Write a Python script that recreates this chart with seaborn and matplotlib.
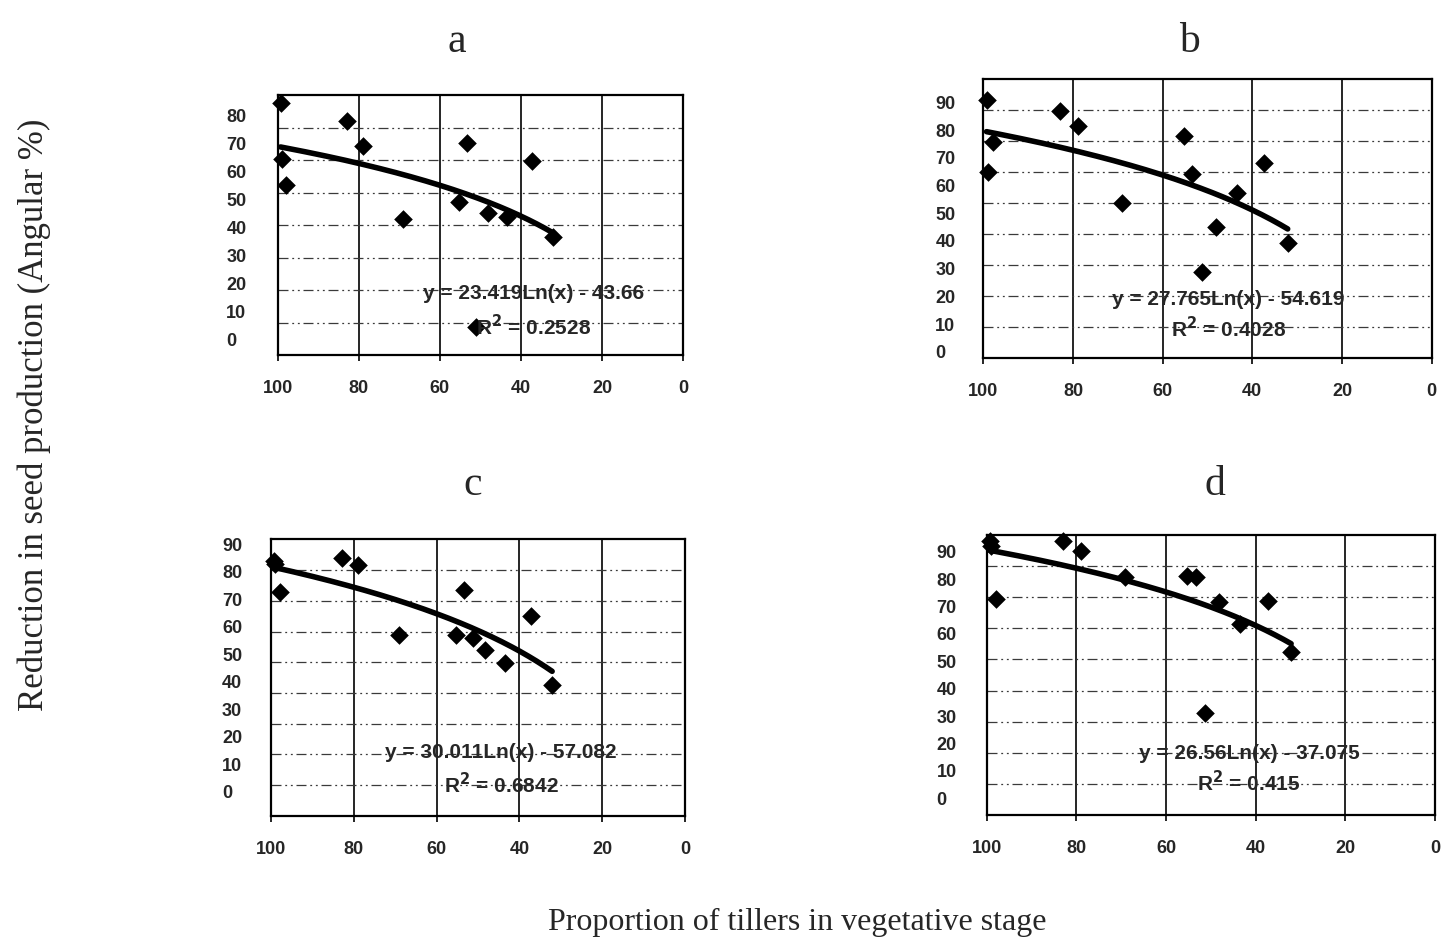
import numpy as np
import pandas as pd
import matplotlib
matplotlib.use("Agg")
import matplotlib.pyplot as plt
import seaborn as sns
from matplotlib.ticker import FixedLocator

sns.set_theme(style="white")
plt.rcParams["font.family"] = ["Liberation Sans", "DejaVu Sans"]

# Proportion of tillers in vegetative stage (%), shared by all four panels
tillers = [99.3, 99.0, 97.9, 82.9, 78.9, 69.1, 55.3, 53.4, 51.2, 48.2, 43.4, 37.3, 32.1]

# Reduction in seed production (angular %) for each panel
reduction_a = [77.4, 60.2, 52.3, 72.1, 64.3, 41.8, 47.0, 65.1, 8.7, 43.8, 42.5, 59.8, 36.4]
reduction_b = [83.2, 60.1, 69.8, 79.8, 75.0, 50.0, 71.7, 59.4, 27.7, 42.4, 53.2, 63.0, 37.1]
reduction_c = [83.0, 82.0, 72.8, 84.1, 81.6, 59.0, 59.0, 73.4, 57.9, 53.9, 49.8, 65.0, 42.4]
reduction_d = [88.0, 86.5, 69.4, 87.9, 85.0, 76.4, 76.9, 76.4, 32.9, 68.6, 61.4, 68.8, 52.3]

# Logarithmic trend lines: y = slope * ln(x) + intercept
slopes = [23.419, 27.765, 30.011, 26.56]
intercepts = [-43.66, -54.619, -57.082, -37.075]
r_squared = ["0.2528", "0.4028", "0.6842", "0.415"]
panel_names = ["a", "b", "c", "d"]

x_ticks = [100, 80, 60, 40, 20, 0]

series = [reduction_a, reduction_b, reduction_c, reduction_d]

# layout of each panel: axes rect, y max, y-label band (low, high), label pad,
# equation anchor (x, y line 1, y line 2), title anchor
layout = [
    dict(rect=[0.1923, 0.6227, 0.2809, 0.2763], ymax=80, nlab=9, band=(4.8, 73.8), pad=37.0,
         eq=(0.632, 0.238, 0.108), title=(0.3165, 0.9447)),
    dict(rect=[0.6810, 0.6192, 0.3104, 0.2968], ymax=90, nlab=10, band=(2.1, 82.5), pad=34.6,
         eq=(0.546, 0.209, 0.108), title=(0.8240, 0.9447)),
    dict(rect=[0.1877, 0.1333, 0.2867, 0.2934], ymax=90, nlab=10, band=(7.8, 88.4), pad=35.3,
         eq=(0.556, 0.227, 0.111), title=(0.3276, 0.4740)),
    dict(rect=[0.6833, 0.1339, 0.3105, 0.2976], ymax=90, nlab=10, band=(5.4, 84.6), pad=36.0,
         eq=(0.585, 0.221, 0.114), title=(0.8414, 0.4740)),
]

fig = plt.figure(figsize=(14.44, 9.41), dpi=100)
fig.patch.set_facecolor("white")

for name, vals, a, b, r2, lay in zip(panel_names, series, slopes, intercepts, r_squared, layout):
    ax = fig.add_axes(lay["rect"])
    ax.set_facecolor("white")
    df = pd.DataFrame({"tillers": tillers, "reduction": vals})

    # fitted logarithmic trend over the observed range
    xf = np.linspace(min(tillers), max(tillers), 200)
    fit = pd.DataFrame({"tillers": xf, "reduction": a * np.log(xf) + b})
    sns.lineplot(data=fit, x="tillers", y="reduction", ax=ax, color="black",
                 linewidth=4.0, zorder=3)
    sns.scatterplot(data=df, x="tillers", y="reduction", ax=ax, marker="D",
                    s=90, color="black", linewidth=0, zorder=4, clip_on=False)

    ax.set_xlim(100, 0)
    ax.set_ylim(0, lay["ymax"])

    # vertical solid gridlines and horizontal dash-dot gridlines
    ax.set_xticks(x_ticks)
    ax.set_xticklabels([str(t) for t in x_ticks], fontsize=13, fontweight="bold")
    ax.grid(axis="x", which="major", color="black", linewidth=1.2, linestyle="-")
    ax.yaxis.set_minor_locator(FixedLocator(list(range(10, lay["ymax"], 10))))
    ax.grid(axis="y", which="minor", color="#3a3a3a", linewidth=0.9,
            linestyle=(0, (8, 3, 1.5, 3, 1.5, 3)))
    ax.grid(axis="y", which="major", visible=False)
    ax.tick_params(axis="x", which="major", direction="out", length=4, width=1.2,
                   color="black", pad=14, bottom=True)
    ax.tick_params(axis="y", which="both", length=0)

    # y tick labels as printed beside the panel
    lo, hi = lay["band"]
    ylab_pos = np.linspace(lo, hi, lay["nlab"])
    ax.set_yticks(ylab_pos)
    ax.set_yticklabels([str(10 * i) for i in range(lay["nlab"])], fontsize=13,
                       fontweight="bold")
    ax.tick_params(axis="y", which="major", pad=lay["pad"])
    for lab in ax.get_yticklabels():
        lab.set_horizontalalignment("left")

    for sp in ax.spines.values():
        sp.set_visible(True)
        sp.set_color("black")
        sp.set_linewidth(1.6)

    ax.set_xlabel("")
    ax.set_ylabel("")

    ex, ey1, ey2 = lay["eq"]
    ax.text(ex, ey1, f"y = {a}Ln(x) - {abs(b)}", transform=ax.transAxes,
            ha="center", va="center", fontsize=15, fontweight="bold", zorder=5)
    ax.text(ex, ey2, f"R$^\\mathbf{{2}}$ = {r2}", transform=ax.transAxes,
            ha="center", va="center", fontsize=15, fontweight="bold", zorder=5)

    tx, ty = lay["title"]
    fig.text(tx, ty, name, ha="center", va="baseline", fontsize=30,
             family="Liberation Serif")

fig.text(0.552, 0.0115, "Proportion of tillers in vegetative stage", ha="center",
         va="baseline", fontsize=23, family="Liberation Serif")
fig.text(0.024, 0.559, "Reduction in seed production (Angular %)", ha="center",
         va="center", rotation=90, fontsize=25, family="Liberation Serif")

fig.savefig("out.png", dpi=100, facecolor="white")
